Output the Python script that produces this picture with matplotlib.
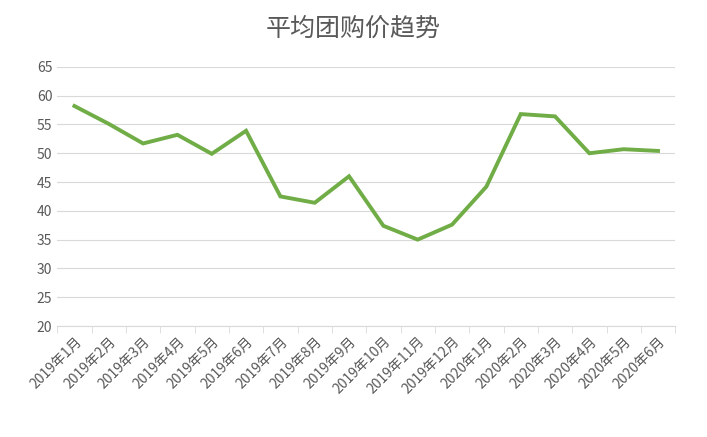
import matplotlib.pyplot as plt
import numpy as np

plt.rcParams['font.family'] = ['Noto Sans CJK SC', 'DejaVu Sans']

months = ["2019年1月", "2019年2月", "2019年3月", "2019年4月", "2019年5月", "2019年6月",
          "2019年7月", "2019年8月", "2019年9月", "2019年10月", "2019年11月", "2019年12月",
          "2020年1月", "2020年2月", "2020年3月", "2020年4月", "2020年5月", "2020年6月"]
price = [58.2, 55.1, 51.7, 53.2, 49.9, 53.9, 42.5, 41.4, 46.0, 37.4, 35.0, 37.6,
         44.2, 56.8, 56.4, 50.0, 50.7, 50.4]

fig = plt.figure(figsize=(7.07, 4.37), dpi=100)
ax = fig.add_axes([0.081, 0.254, 0.874, 0.593])

x = np.arange(len(months))
ax.plot(x, price, color='#70ad47', linewidth=2.8, solid_joinstyle='miter')

ax.set_xlim(-0.5, len(months) - 0.5)
ax.set_ylim(20, 65)
ax.set_yticks(range(20, 66, 5))
ax.grid(axis='y', color='#d9d9d9', linewidth=0.8)
ax.set_axisbelow(True)
for s in ['top', 'right', 'left']:
    ax.spines[s].set_visible(False)
ax.spines['bottom'].set_color('#d9d9d9')

ax.set_xticks(x)
ax.set_xticklabels(months, rotation=45, ha='right', rotation_mode='anchor',
                   fontsize=10, color='#595959')
ax.tick_params(axis='x', length=0, pad=6)
ax.set_xticks(np.arange(-0.5, len(months)), minor=True)
ax.tick_params(axis='x', which='minor', length=5, color='#d9d9d9')
ax.tick_params(axis='y', length=0, labelsize=10, labelcolor='#595959')

fig.text(0.5, 0.935, "平均团购价趋势", ha='center', va='center', fontsize=18, color='#595959')

fig.savefig('out.png', dpi=100)
